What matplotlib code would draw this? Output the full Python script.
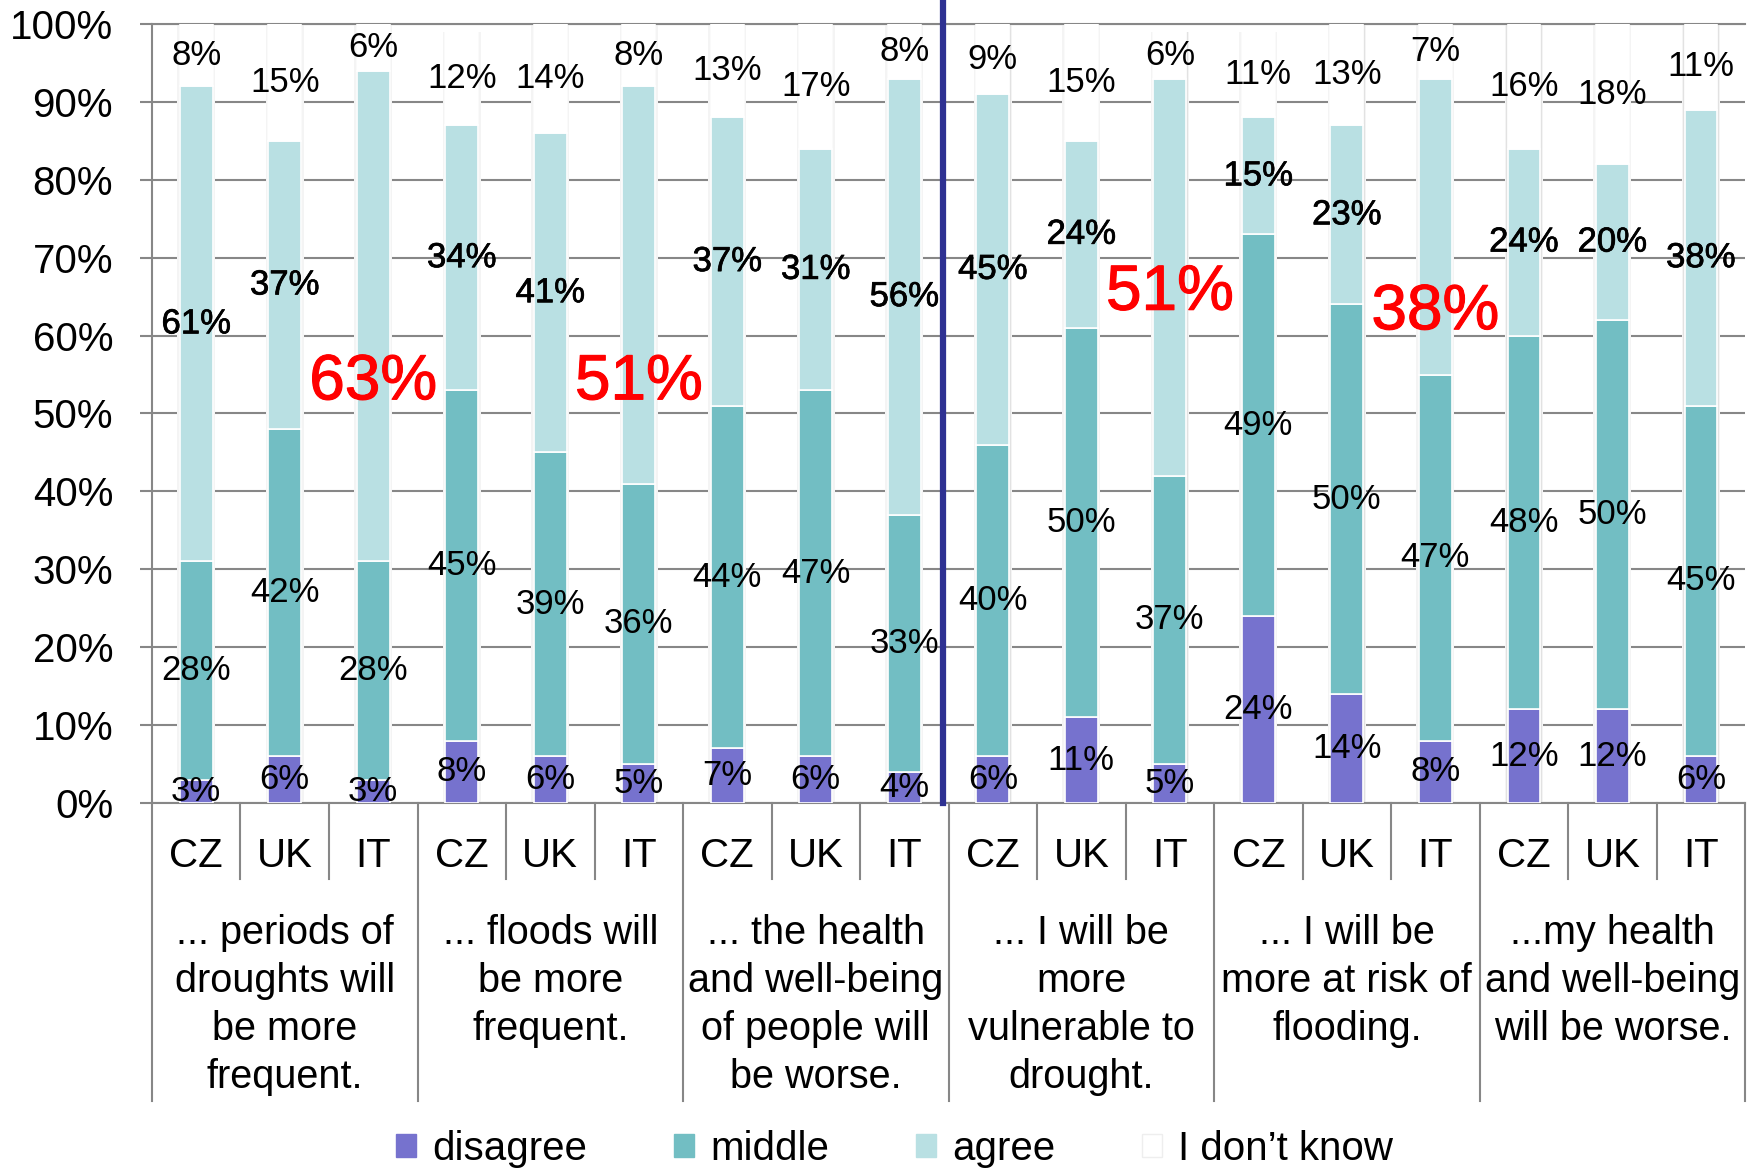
import numpy as np
import matplotlib
matplotlib.use("Agg")
import matplotlib.pyplot as plt
from matplotlib.patches import Patch
from matplotlib import patheffects as pe
from matplotlib.transforms import blended_transform_factory

plt.rcParams['font.family'] = ['Liberation Sans', 'DejaVu Sans']

# ---- data -------------------------------------------------------------
countries = ["CZ", "UK", "IT"] * 6
statements = [
    "... periods of\ndroughts will\nbe more\nfrequent.",
    "... floods will\nbe more\nfrequent.",
    "... the health\nand well-being\nof people will\nbe worse.",
    "... I will be\nmore\nvulnerable to\ndrought.",
    "... I will be\nmore at risk of\nflooding.",
    "...my health\nand well-being\nwill be worse.",
]
disagree = [3, 6, 3, 8, 6, 5, 7, 6, 4, 6, 11, 5, 24, 14, 8, 12, 12, 6]
middle = [28, 42, 28, 45, 39, 36, 44, 47, 33, 40, 50, 37, 49, 50, 47, 48, 50, 45]
agree = [61, 37, 63, 34, 41, 51, 37, 31, 56, 45, 24, 51, 15, 23, 38, 24, 20, 38]
dont_know = [8, 15, 6, 12, 14, 8, 13, 17, 8, 9, 15, 6, 11, 13, 7, 16, 18, 11]
series_names = ["disagree", "middle", "agree", "I don\u2019t know"]

# bars whose "agree" share is called out in large red type, and the
# height (in %) at which that callout is written
highlight_bars = [2, 5, 11, 14]
highlight_label_y = [54, 54, 65.5, 63]

# ---- style ------------------------------------------------------------
colors = ["#7672CE", "#72BEC3", "#B9E0E3", "#FFFFFF"]
grid_col = "#878787"
bar_w = 0.37

fig = plt.figure(figsize=(17.61, 11.71), dpi=100)
ax = fig.add_axes([0.0863, 0.3143, 0.9047, 0.6652])

x = np.arange(len(countries))
series = [np.array(disagree), np.array(middle), np.array(agree), np.array(dont_know)]
totals = sum(series)

# soft shadow behind each stacked bar
ax.bar(x, totals, width=bar_w + 0.06, color="#f4f4f4", zorder=2, linewidth=0)
ax.bar(x, totals, width=bar_w + 0.03, color="#e2e2e2", zorder=2, linewidth=0)

bottom = np.zeros(len(x))
for vals, col, name in zip(series, colors, series_names):
    ax.bar(x, vals, bottom=bottom, width=bar_w, color=col, edgecolor="white",
           linewidth=1.2, zorder=3, label=name)
    bottom = bottom + vals

# value labels
bottom = np.zeros(len(x))
for si, vals in enumerate(series):
    for i in range(len(x)):
        lo = bottom[i]
        hi = min(bottom[i] + vals[i], 100)
        yc = (lo + hi) / 2
        txt = f"{vals[i]}%"
        if si == 2 and i in highlight_bars:
            yy = highlight_label_y[highlight_bars.index(i)]
            ax.text(x[i], yy, txt, ha="center", va="center", fontsize=46,
                    color="#FF0000", zorder=6,
                    path_effects=[pe.withStroke(linewidth=0.8, foreground="#FF0000")])
        elif si == 2:
            ax.text(x[i], yc, txt, ha="center", va="center", fontsize=25,
                    color="black", zorder=6,
                    path_effects=[pe.withStroke(linewidth=0.5, foreground="black")])
        else:
            ax.text(x[i], yc, txt, ha="center", va="center", fontsize=25,
                    color="black", zorder=6)
    bottom = bottom + vals

# axes styling
ax.set_xlim(-0.5, len(x) - 0.5)
ax.set_ylim(0, 100)
ax.set_yticks(np.arange(0, 101, 10))
ax.set_yticklabels([f"{v}%" for v in range(0, 101, 10)])
ax.yaxis.grid(True, color=grid_col, linewidth=1.5)
ax.set_axisbelow(True)
ax.set_xticks([])
ax.spines["right"].set_visible(False)
for side in ["left", "bottom", "top"]:
    ax.spines[side].set_color(grid_col)
    ax.spines[side].set_linewidth(1.5)
ax.tick_params(axis="y", length=9, width=1.5, color=grid_col, pad=19,
               labelsize=29)

# divider between the general and the personal statements
ax.axvline(8.44, ymin=0, ymax=1.03, color="#2E3192", linewidth=4.5,
           clip_on=False, zorder=7)

# two-level category axis
trans = blended_transform_factory(ax.transData, ax.transAxes)
for i, c in enumerate(countries):
    ax.text(x[i], -0.068, c, transform=trans, ha="center", va="center",
            fontsize=29)
for k in range(len(x) + 1):
    xb = k - 0.5
    depth = -0.3825 if k % 3 == 0 else -0.0976
    ax.plot([xb, xb], [0, depth], transform=trans, color=grid_col,
            linewidth=1.5, clip_on=False)
for g, s in enumerate(statements):
    ax.text(3 * g + 1, -0.143, s, transform=trans, ha="center", va="top",
            fontsize=28.5, linespacing=1.33)

# legend
handles = [Patch(facecolor=c, edgecolor=("#eeeeee" if c == "#FFFFFF" else c))
           for c in colors]
fig.legend(handles, series_names, loc="center", bbox_to_anchor=(0.508, 0.019),
           ncol=4, frameon=False, fontsize=29, handlelength=0.5,
           handleheight=0.5, handletextpad=0.4, columnspacing=2.15)

fig.savefig("out.png", dpi=100)
